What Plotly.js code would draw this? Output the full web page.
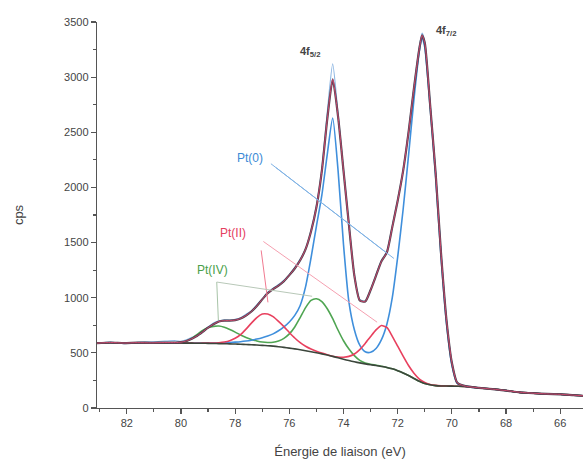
<!DOCTYPE html>
<html>
<head>
<meta charset="utf-8">
<script src="https://cdn.plot.ly/plotly-3.0.1.min.js"></script>
<style>html,body{margin:0;padding:0;background:#fff;}#chart{width:583px;height:466px;}</style>
</head>
<body>
<div id="chart"></div>
<script>
// Binding energy (eV)
const energy = [83.1, 82.6, 82.1, 81.6, 81.1, 80.6, 80.2, 80.0, 79.8, 79.6,
  79.4, 79.2, 79.0, 78.8, 78.6, 78.4, 78.2, 78.0, 77.8, 77.6,
  77.4, 77.2, 77.0, 76.8, 76.6, 76.4, 76.2, 76.0, 75.8, 75.6,
  75.4, 75.2, 75.0, 74.8, 74.6, 74.4, 74.2, 74.0, 73.8, 73.6,
  73.4, 73.2, 73.0, 72.8, 72.6, 72.4, 72.2, 72.0, 71.8, 71.6,
  71.4, 71.2, 71.1, 71.0, 70.8, 70.6, 70.4, 70.2, 70.0, 69.8,
  69.5, 69.0, 68.5, 68.0, 67.5, 67.0, 66.5, 66.0, 65.5, 65.16];

// Shirley background
const background = [588, 592, 590, 591, 590, 590, 589, 589, 588, 588,
  587, 587, 586, 585, 584, 583, 581, 580, 578, 576,
  574, 571, 568, 565, 561, 556, 550, 543, 536, 528,
  519, 510, 501, 491, 480, 468, 455, 442, 430, 419,
  409, 400, 392, 385, 377, 368, 355, 338, 318, 294,
  268, 242, 232, 223, 210, 203, 200, 199, 198, 197,
  195, 182, 172, 158, 142, 134, 127, 124, 116, 111];

// Fitted envelope
const envelope = [588, 594, 589, 593, 591, 594, 593, 597, 608, 628,
  655, 690, 728, 760, 785, 792, 793, 797, 812, 838,
  875, 925, 985, 1040, 1078, 1110, 1150, 1205, 1265, 1340,
  1440, 1600, 1820, 2150, 2620, 2980, 2640, 2150, 1660, 1200,
  975, 965, 1070, 1200, 1330, 1410, 1640, 1880, 2150, 2500,
  2900, 3260, 3380, 3310, 2740, 2130, 1400, 800, 410, 228,
  198, 183, 171, 158, 143, 134, 128, 124, 116, 111];

// Raw counts
const rawData = [585, 598, 584, 596, 600, 606, 610, 604, 618, 640,
  660, 700, 735, 770, 790, 800, 798, 805, 818, 850,
  880, 935, 990, 1050, 1085, 1120, 1160, 1210, 1275, 1350,
  1445, 1610, 1835, 2170, 2680, 3120, 2660, 2160, 1660, 1210,
  985, 970, 1075, 1210, 1340, 1420, 1650, 1890, 2160, 2510,
  2910, 3280, 3400, 3320, 2750, 2140, 1410, 805, 415, 230,
  200, 186, 170, 160, 140, 136, 126, 125, 114, 112];

// Pt(0) component
const pt0 = [588, 592, 590, 591, 590, 590, 589, 589, 588, 588,
  588, 588, 588, 588, 589, 591, 594, 597, 601, 607,
  615, 625, 637, 652, 672, 700, 735, 780, 840, 930,
  1100, 1360, 1650, 1930, 2300, 2630, 2150, 1480, 960, 710,
  570, 510, 505, 540, 620, 760, 1000, 1370, 1800, 2290,
  2800, 3240, 3360, 3270, 2720, 2100, 1370, 770, 390, 222,
  196, 182, 172, 158, 142, 134, 127, 124, 116, 111];

// Pt(II) component
const pt2 = [588, 592, 590, 591, 590, 590, 589, 589, 588, 588,
  587, 588, 588, 589, 592, 598, 610, 632, 665, 715,
  770, 820, 852, 852, 828, 785, 738, 685, 635, 592,
  560, 535, 515, 498, 483, 470, 462, 460, 468, 490,
  530, 585, 648, 708, 748, 730, 650, 560, 470, 385,
  315, 262, 245, 232, 214, 205, 201, 199, 198, 197,
  195, 182, 172, 158, 142, 134, 127, 124, 116, 111];

// Pt(IV) component
const pt4 = [588, 592, 590, 591, 590, 590, 589, 590, 605, 632,
  668, 703, 728, 740, 743, 732, 712, 688, 662, 640,
  622, 608, 598, 594, 596, 608, 632, 672, 735, 820,
  910, 975, 990, 965, 900, 810, 705, 610, 535, 475,
  432, 408, 396, 388, 379, 368, 355, 338, 318, 294,
  268, 242, 232, 223, 210, 203, 200, 199, 198, 197,
  195, 182, 172, 158, 142, 134, 127, 124, 116, 111];

const xTicks = [82, 80, 78, 76, 74, 72, 70, 68, 66];
const yTicks = [0, 500, 1000, 1500, 2000, 2500, 3000, 3500];

const sp = {shape: 'spline', smoothing: 0.6};
function tr(y, color, width, dash) {
  return {x: energy, y: y, type: 'scatter', mode: 'lines', hoverinfo: 'skip',
    line: Object.assign({color: color, width: width, dash: dash || 'solid'}, sp), showlegend: false};
}

const traces = [
  tr(rawData, '#8db6e2', 1.2),
  tr(pt4, '#4fa552', 1.6),
  tr(pt0, '#3f8fdc', 1.6),
  tr(pt2, '#e8405e', 1.6),
  tr(background, '#3c463c', 1.6),
  tr(envelope, '#4b4150', 2.2),
  tr(envelope, '#d9486e', 0.9)
];

const lbl = (txt, x, y, color, size, bold) => ({
  text: bold ? '<b>' + txt + '</b>' : txt, x: x, y: y, xref: 'x', yref: 'y', showarrow: false,
  font: {family: 'Liberation Sans, Arial, sans-serif', size: size, color: color}
});

const ln = (x0, y0, x1, y1, color) => ({type: 'line', xref: 'x', yref: 'y',
  x0: x0, y0: y0, x1: x1, y1: y1, line: {color: color, width: 1}});

const layout = {
  width: 583, height: 466,
  margin: {l: 97, r: 0, t: 22, b: 58},
  paper_bgcolor: '#ffffff', plot_bgcolor: '#ffffff',
  font: {family: 'Liberation Sans, Arial, sans-serif', color: '#444'},
  xaxis: {
    range: [83.1, 65.16], tickvals: xTicks, ticks: 'outside', ticklen: 5, tickwidth: 1.2,
    tickcolor: '#555', showline: true, linecolor: '#555', linewidth: 1.2, showgrid: false,
    zeroline: false, tickfont: {size: 11, color: '#444'},
    minor: {dtick: 1, tick0: 0, ticks: 'outside', ticklen: 3, tickcolor: '#555', showgrid: false},
    title: {text: 'Énergie de liaison (eV)', font: {size: 13, color: '#444'}, standoff: 18}
  },
  yaxis: {
    range: [0, 3500], tickvals: yTicks, ticks: 'outside', ticklen: 5, tickwidth: 1.2,
    tickcolor: '#555', showline: true, linecolor: '#555', linewidth: 1.2, showgrid: false,
    zeroline: false, tickfont: {size: 11, color: '#444'},
    minor: {dtick: 250, tick0: 0, ticks: 'outside', ticklen: 3, tickcolor: '#555', showgrid: false},
    title: {text: 'cps', font: {size: 13, color: '#444'}, standoff: 37}
  },
  annotations: [
    lbl('4f<sub>5/2</sub>', 75.25, 3230, '#444', 11, true),
    lbl('4f<sub>7/2</sub>', 70.2, 3420, '#444', 11, true),
    lbl('Pt(0)', 77.44, 2270, '#3b8ad6', 12, false),
    lbl('Pt(II)', 78.08, 1591, '#e5405f', 12, false),
    lbl('Pt(IV)', 78.85, 1248, '#4aa04a', 12, false)
  ],
  shapes: [
    ln(76.68, 2215, 72.43, 1410, '#7fb2e4'),
    ln(76.49, 2179, 72.14, 1356, '#7fb2e4'),
    ln(77.04, 1429, 76.79, 958, '#f07a90'),
    ln(76.96, 1510, 72.76, 778, '#f5a0b0'),
    ln(78.68, 1142, 78.62, 796, '#a8c4a8'),
    ln(78.68, 1142, 75.16, 1013, '#b8c8b8')
  ]
};

Plotly.newPlot('chart', traces, layout, {staticPlot: true, displayModeBar: false});
</script>
</body>
</html>
